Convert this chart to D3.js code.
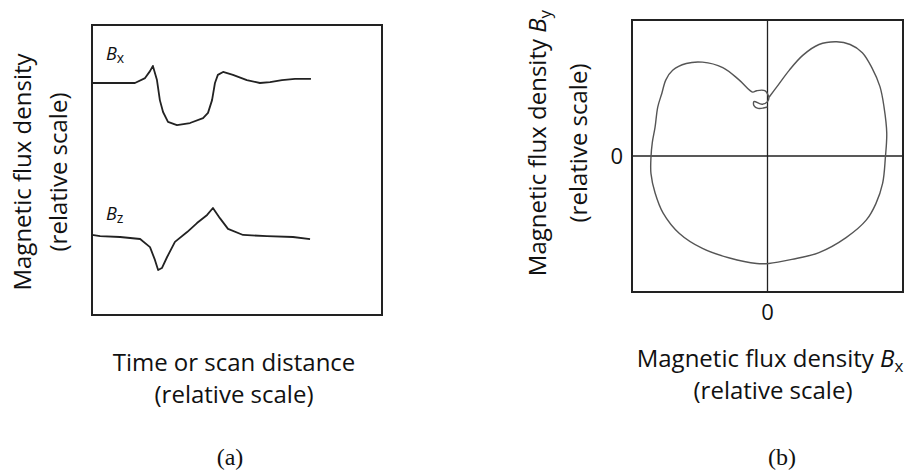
<!DOCTYPE html>
<html>
<head>
<meta charset="utf-8">
<script src="https://cdn.jsdelivr.net/npm/d3@7"></script>
<style>
  body { margin: 0; background: #fff; }
  svg text { font-family: "Open Sans", "Noto Sans", sans-serif; fill: #111; }
  .lbl { font-size: 24px; }
  .tick { font-size: 22px; }
  .serif { font-family: "Liberation Serif", "DejaVu Serif", serif; font-size: 24px; }
</style>
</head>
<body>
<svg id="chart" width="909" height="475"></svg>
<script>
// (a) traces against time, relative units 0..100
var bxTime = [0, 14.8, 18.3, 20.0, 21.0, 22.4, 23.4, 24.5, 26.2, 29.3, 33.8, 38.3, 40.0, 41.4, 42.4, 43.4, 45.2, 48.6, 53.4, 57.9, 61.4, 65.5, 70.0, 75.5];
var bxValues = [80.0, 80.0, 81.7, 84.1, 85.9, 81.0, 74.1, 70.0, 66.6, 65.5, 66.2, 67.9, 69.7, 74.1, 80.0, 82.8, 83.8, 82.8, 81.0, 80.0, 80.3, 81.0, 81.4, 81.4];
var bzTime = [0, 2.8, 9.7, 16.6, 20.0, 21.7, 22.8, 24.1, 25.9, 28.6, 32.8, 36.2, 39.7, 41.7, 44.1, 46.9, 52.1, 60.3, 69.3, 75.2];
var bzValues = [27.6, 27.2, 26.9, 26.2, 23.4, 19.0, 15.5, 16.2, 20.0, 25.2, 28.6, 31.7, 34.5, 36.9, 33.4, 29.7, 27.6, 27.2, 26.9, 26.2];

// (b) Bx against By, relative units -1..1
var loopBx = [0.01, 0.07, 0.16, 0.26, 0.38, 0.51, 0.61, 0.70, 0.77, 0.83, 0.86, 0.88, 0.87, 0.85, 0.80, 0.73, 0.58, 0.38, 0.18, 0.01, -0.08, -0.28, -0.48, -0.65, -0.77, -0.83, -0.86, -0.86, -0.85, -0.83, -0.81, -0.78, -0.75, -0.70, -0.60, -0.48, -0.33, -0.21, -0.11, -0.08, -0.02, 0.01, 0.00, -0.04, -0.10, -0.10, -0.07, 0.00];
var loopBy = [0.43, 0.51, 0.63, 0.74, 0.82, 0.84, 0.82, 0.76, 0.65, 0.51, 0.36, 0.17, -0.01, -0.20, -0.35, -0.47, -0.60, -0.71, -0.76, -0.79, -0.79, -0.75, -0.68, -0.57, -0.42, -0.27, -0.13, -0.01, 0.10, 0.21, 0.36, 0.46, 0.56, 0.63, 0.68, 0.69, 0.65, 0.56, 0.47, 0.48, 0.48, 0.43, 0.40, 0.38, 0.40, 0.37, 0.35, 0.36];

var svg = d3.select("#chart");

// ---------- panel (a)
var a = { left: 92, right: 382, top: 25, bottom: 315 };
var xa = d3.scaleLinear().domain([0, 100]).range([a.left, a.right]);
var ya = d3.scaleLinear().domain([0, 100]).range([a.bottom, a.top]);

svg.append("rect")
  .attr("x", a.left).attr("y", a.top)
  .attr("width", a.right - a.left).attr("height", a.bottom - a.top)
  .attr("fill", "none").attr("stroke", "#222").attr("stroke-width", 2);

var lineA = d3.line()
  .x(function(d){ return xa(d[0]); })
  .y(function(d){ return ya(d[1]); });

svg.append("path")
  .datum(d3.zip(bxTime, bxValues))
  .attr("d", lineA)
  .attr("fill", "none").attr("stroke", "#222").attr("stroke-width", 1.8)
  .attr("stroke-linejoin", "round");

svg.append("path")
  .datum(d3.zip(bzTime, bzValues))
  .attr("d", lineA)
  .attr("fill", "none").attr("stroke", "#222").attr("stroke-width", 1.8)
  .attr("stroke-linejoin", "round");

function bSub(x, y, sub) {
  var t = svg.append("text").attr("x", x).attr("y", y)
    .style("font-size", "18px").style("font-style", "italic");
  t.append("tspan").text("B");
  t.append("tspan").attr("dy", 3).style("font-size", "14px").style("font-style", "normal").text(sub);
}
bSub(106, 60, "x");
bSub(106, 220, "z");

// y label (a)
var ylA = svg.append("g").attr("transform", "translate(31,172) rotate(-90)");
ylA.append("text").attr("class", "lbl").attr("text-anchor", "middle").text("Magnetic flux density");
ylA.append("text").attr("class", "lbl").attr("text-anchor", "middle").attr("y", 36).text("(relative scale)");

// x label (a)
svg.append("text").attr("class", "lbl").attr("text-anchor", "middle")
  .attr("x", 234).attr("y", 371).text("Time or scan distance");
svg.append("text").attr("class", "lbl").attr("text-anchor", "middle")
  .attr("x", 234).attr("y", 403).text("(relative scale)");
svg.append("text").attr("class", "serif").attr("text-anchor", "middle")
  .attr("x", 230).attr("y", 465).text("(a)");

// ---------- panel (b)
var b = { left: 632, right: 903, top: 20, bottom: 292 };
var xb = d3.scaleLinear().domain([-1, 1]).range([b.left, b.right]);
var yb = d3.scaleLinear().domain([-1, 1]).range([b.bottom, b.top]);

svg.append("rect")
  .attr("x", b.left).attr("y", b.top)
  .attr("width", b.right - b.left).attr("height", b.bottom - b.top)
  .attr("fill", "none").attr("stroke", "#222").attr("stroke-width", 2);

svg.append("line")
  .attr("x1", xb(0)).attr("x2", xb(0)).attr("y1", b.top).attr("y2", b.bottom)
  .attr("stroke", "#222").attr("stroke-width", 1.3);
svg.append("line")
  .attr("x1", b.left).attr("x2", b.right).attr("y1", yb(0)).attr("y2", yb(0))
  .attr("stroke", "#222").attr("stroke-width", 1.3);

var lineB = d3.line()
  .x(function(d){ return xb(d[0]); })
  .y(function(d){ return yb(d[1]); })
  .curve(d3.curveCatmullRom);

svg.append("path")
  .datum(d3.zip(loopBx, loopBy))
  .attr("d", lineB)
  .attr("fill", "none").attr("stroke", "#555").attr("stroke-width", 1.4)
  .attr("stroke-linejoin", "round");

svg.append("text").attr("class", "tick").attr("text-anchor", "end")
  .attr("x", b.left - 9).attr("y", yb(0) + 8).text("0");
svg.append("text").attr("class", "tick").attr("text-anchor", "middle")
  .attr("x", xb(0)).attr("y", b.bottom + 28).text("0");

// y label (b)
var ylB = svg.append("g").attr("transform", "translate(546,143) rotate(-90)");
var t1 = ylB.append("text").attr("class", "lbl").attr("text-anchor", "middle");
t1.append("tspan").text("Magnetic flux density ");
t1.append("tspan").style("font-style", "italic").text("B");
t1.append("tspan").attr("dy", 5).style("font-size", "17px").text("y");
ylB.append("text").attr("class", "lbl").attr("text-anchor", "middle").attr("y", 41).text("(relative scale)");

// x label (b)
var t2 = svg.append("text").attr("class", "lbl").attr("text-anchor", "middle")
  .attr("x", 770).attr("y", 367);
t2.append("tspan").text("Magnetic flux density ");
t2.append("tspan").style("font-style", "italic").text("B");
t2.append("tspan").attr("dy", 5).style("font-size", "17px").text("x");
svg.append("text").attr("class", "lbl").attr("text-anchor", "middle")
  .attr("x", 773).attr("y", 399).text("(relative scale)");
svg.append("text").attr("class", "serif").attr("text-anchor", "middle")
  .attr("x", 782).attr("y", 465).text("(b)");
</script>
</body>
</html>
